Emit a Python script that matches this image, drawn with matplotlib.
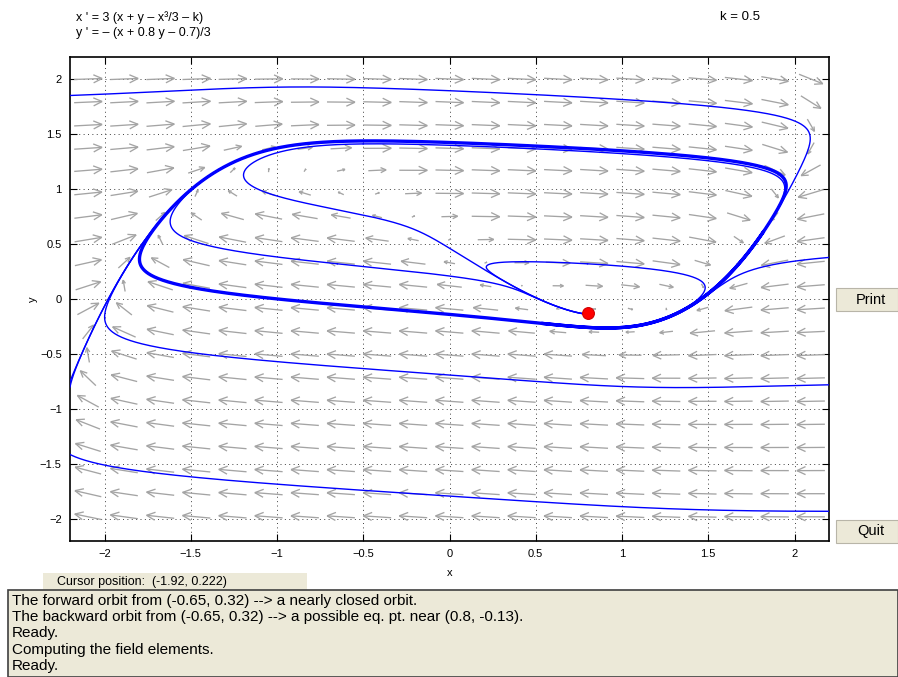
import numpy as np
import matplotlib
matplotlib.use('Agg')
import matplotlib.pyplot as plt
from matplotlib.collections import LineCollection
from matplotlib.patches import Rectangle

# ---------------- data ----------------
K = 0.5
XCOEF = 3.0
B_COEF = 0.8
C_COEF = 0.7

xlim = (-2.2, 2.2)
ylim = (-2.2, 2.2)
xticks = [-2, -1.5, -1, -0.5, 0, 0.5, 1, 1.5, 2]
yticks = [-2, -1.5, -1, -0.5, 0, 0.5, 1, 1.5, 2]
xtick_labels = ['\u22122', '\u22121.5', '\u22121', '\u22120.5', '0', '0.5', '1', '1.5', '2']
ytick_labels = ['\u22122', '\u22121.5', '\u22121', '\u22120.5', '0', '0.5', '1', '1.5', '2']

# arrow grid (21 columns x 20 rows)
arrow_x = [-2.095, -1.886, -1.676, -1.467, -1.257, -1.048, -0.838, -0.629, -0.419, -0.210,
           0.0, 0.210, 0.419, 0.629, 0.838, 1.048, 1.257, 1.467, 1.676, 1.886, 2.095]
arrow_y = [-1.98, -1.77, -1.56, -1.35, -1.14, -0.93, -0.72, -0.51, -0.30, -0.09,
           0.12, 0.33, 0.54, 0.75, 0.96, 1.17, 1.37, 1.58, 1.79, 2.0]

# orbit seeds: (x0, y0, forward time, backward time)
seed_x = [-0.65, -2.2, -2.2, 2.2, 2.2, 2.2, 0.8, -0.5]
seed_y = [0.32, 1.85, -0.8, -0.78, -1.93, 0.378, 0.32, 1.41]
seed_tf = [30.0, 8.0, 8.0, 8.0, 8.0, 8.0, 8.0, 8.0]
seed_tb = [15.0, 0.0, 0.0, 0.0, 0.0, 0.0, 15.0, 15.0]

eq_point = (0.805, -0.131)

eq_text = ["x ' = 3 (x + y \u2013 x\u00b3/3 \u2013 k)", "y ' = \u2013 (x + 0.8 y \u2013 0.7)/3"]
param_text = "k = 0.5"
cursor_text = "Cursor position:  (-1.92, 0.222)"
messages = ["The forward orbit from (-0.65, 0.32) --> a nearly closed orbit.",
            "The backward orbit from (-0.65, 0.32) --> a possible eq. pt. near (0.8, -0.13).",
            "Ready.",
            "Computing the field elements.",
            "Ready."]


def field(x, y):
    return XCOEF * (x + y - x ** 3 / 3.0 - K), -(x + B_COEF * y - C_COEF) / 3.0


def orbit(x0, y0, T, h=0.002):
    n = int(T / abs(h))
    xs = [x0]
    ys = [y0]
    x, y = x0, y0
    for _ in range(n):
        k1 = field(x, y)
        k2 = field(x + 0.5 * h * k1[0], y + 0.5 * h * k1[1])
        k3 = field(x + 0.5 * h * k2[0], y + 0.5 * h * k2[1])
        k4 = field(x + h * k3[0], y + h * k3[1])
        x = x + h / 6.0 * (k1[0] + 2 * k2[0] + 2 * k3[0] + k4[0])
        y = y + h / 6.0 * (k1[1] + 2 * k2[1] + 2 * k3[1] + k4[1])
        xs.append(x)
        ys.append(y)
        if abs(x) > 2.35 or abs(y) > 2.35:
            break
    return np.array(xs), np.array(ys)


# ---------------- figure ----------------
W, H = 898, 677
fig = plt.figure(figsize=(W / 100, H / 100), dpi=100)
fig.patch.set_facecolor('white')


def fx(px):
    return px / W


def fy(py):
    return 1 - py / H


ax_l, ax_r, ax_t, ax_b = 70, 829, 57, 541
ax = fig.add_axes([fx(ax_l), fy(ax_b), (ax_r - ax_l) / W, (ax_b - ax_t) / H])
ax.set_xlim(*xlim)
ax.set_ylim(*ylim)
ax.set_xticks(xticks)
ax.set_yticks(yticks)
ax.set_xticklabels(xtick_labels)
ax.set_yticklabels(ytick_labels)
ax.tick_params(direction='in', length=5, width=0.8, top=True, right=True,
               labelsize=8, pad=6)
for lab in ax.get_xticklabels() + ax.get_yticklabels():
    lab.set_family('Liberation Sans')
for sp in ax.spines.values():
    sp.set_linewidth(1.2)
ax.grid(True, color='0.25', linestyle=(0, (1, 3.5)), linewidth=0.7)
ax.set_axisbelow(True)
ax.set_xlabel('x', fontsize=8, family='Liberation Sans', labelpad=6)
ax.set_ylabel('y', fontsize=8, family='Liberation Sans', labelpad=1)

# --- direction field ---
sx = (ax_r - ax_l) / (xlim[1] - xlim[0])   # px per data unit
sy = (ax_b - ax_t) / (ylim[1] - ylim[0])
Lmax_px = 28.0
segs = []
for yv in arrow_y:
    for xv in arrow_x:
        u, v = field(xv, yv)
        m = np.hypot(u, v)
        if m == 0:
            continue
        Ld = (Lmax_px / sx) * min(1.0, m / 1.3)
        dxd = Ld * u / m
        dyd = Ld * v / m
        tail = (xv - dxd / 2, yv - dyd / 2)
        tip = (xv + dxd / 2, yv + dyd / 2)
        segs.append([tail, tip])
        # head in display space
        ddx, ddy = dxd * sx, dyd * sy
        Lp = np.hypot(ddx, ddy)
        ux, uy = ddx / Lp, ddy / Lp
        hl = 0.34 * Lp
        for ang in (np.radians(25), -np.radians(25)):
            ca, sa = np.cos(ang), np.sin(ang)
            bx = -(ux * ca - uy * sa) * hl
            by = -(ux * sa + uy * ca) * hl
            segs.append([tip, (tip[0] + bx / sx, tip[1] + by / sy)])
ax.add_collection(LineCollection(segs, colors='#a4a4a4', linewidths=0.95, zorder=2))

# --- orbits ---
for x0, y0, tf, tb in zip(seed_x, seed_y, seed_tf, seed_tb):
    if tf > 0:
        xs, ys = orbit(x0, y0, tf, 0.002)
        ax.plot(xs, ys, color='#0000ff', lw=1.0, zorder=3)
        if tf >= 20:
            n0 = int(len(xs) * 0.5)
            ax.plot(xs[n0:], ys[n0:], color='#0000ff', lw=2.4, zorder=3)
    if tb > 0:
        xs, ys = orbit(x0, y0, tb, -0.002)
        ax.plot(xs, ys, color='#0000ff', lw=1.0, zorder=3)

ax.plot([eq_point[0]], [eq_point[1]], 'o', ms=8.5, mfc='#ff0000', mec='#d00000',
        mew=0.8, zorder=4)

# --- header text ---
fig.text(fx(76), fy(18), eq_text[0], fontsize=9, family='Liberation Sans', va='center', ha='left')
fig.text(fx(76), fy(33), eq_text[1], fontsize=9, family='Liberation Sans', va='center', ha='left')
fig.text(fx(740), fy(16.5), param_text, fontsize=9.5, family='Liberation Sans', va='center', ha='center')

# --- buttons ---
panel_col = '#ece9d8'
for (bx0, by0, label) in [(836, 288, 'Print'), (836, 520, 'Quit')]:
    fig.patches.append(Rectangle((fx(bx0), fy(by0 + 23)), 62 / W, 23 / H, transform=fig.transFigure,
                                 facecolor=panel_col, edgecolor='#b8b5a8', lw=0.8))
    fig.text(fx(bx0 + 35), fy(by0 + 11.5), label, fontsize=10.5,
             family='Liberation Sans', ha='center', va='center')

# --- cursor box ---
fig.patches.append(Rectangle((fx(43), fy(591)), (307 - 43) / W, 18 / H, transform=fig.transFigure,
                             facecolor=panel_col, edgecolor='none'))
fig.text(fx(57), fy(582), cursor_text, fontsize=9,
         family='Liberation Sans', ha='left', va='center')

# --- message box ---
fig.patches.append(Rectangle((fx(8), fy(677)), (898 - 8) / W, 87 / H, transform=fig.transFigure,
                             facecolor=panel_col, edgecolor='#404040', lw=1.2))
for i, msg in enumerate(messages):
    fig.text(fx(12), fy(601 + i * 16.2), msg, fontsize=11,
             family='Liberation Sans', ha='left', va='center')

fig.savefig('out.png', dpi=100)
